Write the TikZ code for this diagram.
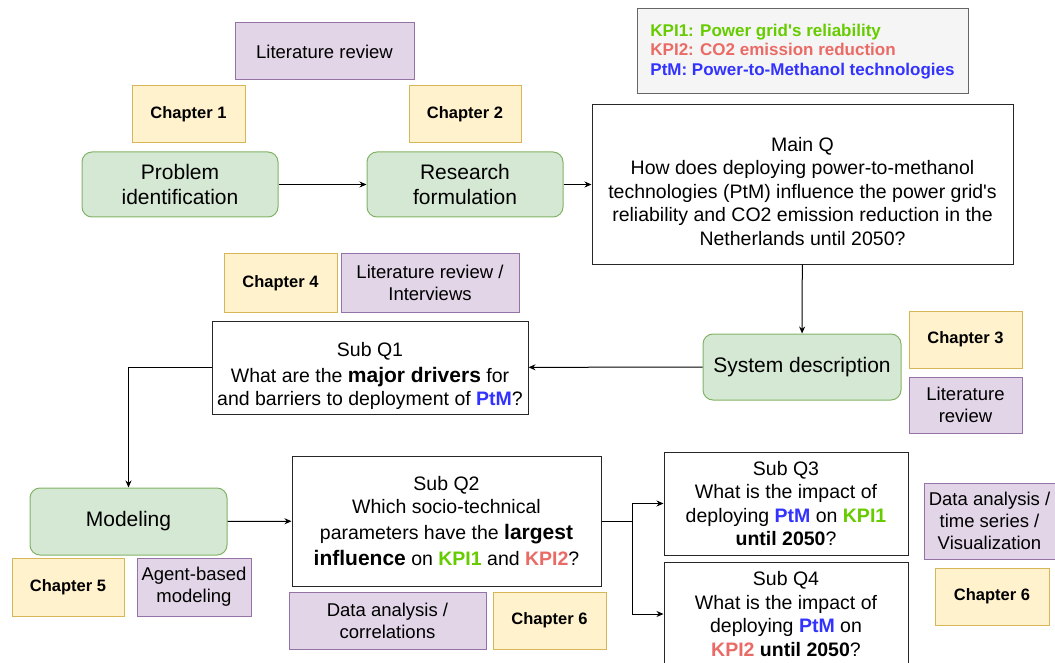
\documentclass[tikz,border=0pt]{standalone}
\usepackage{fontspec}
\setmainfont{Liberation Sans}
\usepackage{xcolor}
\usetikzlibrary{arrows.meta}
\definecolor{grfill}{HTML}{D5E8D4}
\definecolor{grdraw}{HTML}{82B366}
\definecolor{yefill}{HTML}{FFF2CC}
\definecolor{yedraw}{HTML}{D6B656}
\definecolor{pufill}{HTML}{E1D5E7}
\definecolor{pudraw}{HTML}{9673A6}
\definecolor{lgfill}{HTML}{F5F5F5}
\definecolor{lgdraw}{HTML}{666666}
\definecolor{kpione}{HTML}{66CC00}
\definecolor{kpitwo}{HTML}{EA6B66}
\definecolor{ptmblue}{HTML}{3333FF}
% keywords in the questions
\newcommand*{\PtM}{\textcolor{ptmblue}{\textbf{PtM}}}
\newcommand*{\KPIone}{\textcolor{kpione}{\textbf{KPI1}}}
\newcommand*{\KPItwo}{\textcolor{kpitwo}{\textbf{KPI2}}}
\newcommand*{\keyword}[1]{{\fontsize{21}{23.5}\selectfont\bfseries #1}}
\newcommand*{\apos}{\textquotesingle}

\begin{document}
\begin{tikzpicture}[x=1pt, y=-1pt, line width=1pt, >={Stealth[length=7pt,width=6pt]},
  dims/.style 2 args={minimum width=#1pt, minimum height=#2pt},
  phase/.style={draw=grdraw, fill=grfill, rounded corners=10pt, align=center, inner sep=0pt, font=\fontsize{21}{25}\selectfont},
  chapter/.style={draw=yedraw, fill=yefill, inner sep=0pt, font=\bfseries\fontsize{16.5}{20}\selectfont},
  method/.style={draw=pudraw, fill=pufill, align=center, inner sep=0pt, font=\fontsize{18.5}{22}\selectfont},
  question/.style={draw=black!85, fill=white, align=center, inner sep=0pt, font=\fontsize{19.5}{23.5}\selectfont}]
\useasboundingbox (0,0) rectangle (1055,663);

\node[method, dims={179}{57}] (litrev) at (324.5,51.5) {Literature review};
\node[chapter, dims={113}{57}] (chone) at (188.5,114.5) {Chapter 1};
\node[chapter, dims={112}{57}] (chtwo) at (465,114.5) {Chapter 2};
\node[phase, dims={196}{65}] (problem) at (180,184.5) {Problem\\identification};
\node[phase, dims={196}{65}] (research) at (465,184.5) {Research\\formulation};
\node[draw=lgdraw, fill=lgfill, align=left, inner sep=0pt, dims={331}{85}, font=\bfseries\fontsize{17}{19.5}\selectfont] (legend) at (802.5,51.5)
  {\textcolor{kpione}{KPI1: Power grid\apos s reliability}\\\textcolor{kpitwo}{KPI2: CO2 emission reduction}\\\textcolor{ptmblue}{PtM: Power-to-Methanol technologies}};
\node[question, dims={421}{159}] (mainq) at (802.5,184.5) {\rule{0pt}{28pt}Main Q\\How does deploying power-to-methanol\\technologies (PtM) influence the power grid\apos s\\reliability and CO2 emission reduction in the\\Netherlands until 2050?};

\node[chapter, dims={113}{58}] (chfour) at (280.5,283) {Chapter 4};
\node[method, dims={178}{58}] (interviews) at (430,283) {Literature review /\\Interviews};
\node[question, dims={316}{93}] (subqone) at (370,367.5) {\rule{0pt}{31pt}Sub Q1\\[2.5pt]What are the \keyword{major drivers} for\\and barriers to deployment of \PtM?};
\node[phase, dims={198}{66}] (system) at (802,367) {System description};
\node[chapter, dims={113}{57}] (chthree) at (965.5,339.5) {Chapter 3};
\node[method, dims={113}{56}] (litrevb) at (965.5,405) {Literature\\review};

\node[phase, dims={197}{67}] (modeling) at (128.5,521.5) {Modeling};
\node[chapter, dims={112}{58}] (chfive) at (68,587) {Chapter 5};
\node[method, dims={114}{58}] (agent) at (194,587) {Agent-based\\modeling};
\node[question, dims={309}{130}] (subqtwo) at (446.5,521) {Sub Q2\\Which socio-technical\\[2.5pt]parameters have the \keyword{largest}\\[2.5pt]\keyword{influence} on \KPIone{} and \KPItwo?};
\node[method, dims={197}{57}] (correl) at (387.5,620.5) {Data analysis /\\correlations};
\node[chapter, dims={113}{57}] (chsix) at (549.5,620.5) {Chapter 6};
\node[question, dims={244}{103}] (subqthree) at (786,503.5) {Sub Q3\\What is the impact of\\deploying \PtM{} on \KPIone\\\textbf{until 2050}?};
\node[question, dims={244}{104}] (subqfour) at (786,614) {Sub Q4\\What is the impact of\\deploying \PtM{} on\\\KPItwo{} \textbf{until 2050}?};
\node[method, dims={131}{76}] (timeseries) at (989.5,521) {Data analysis /\\time series /\\Visualization};
\node[chapter, dims={114}{57}] (chsixb) at (992,596.5) {Chapter 6};

\draw[->] (problem) -- (research);
\draw[->] (research) -- (mainq);
\draw[->] (mainq) -- (system);
\draw[->] (system) -- (subqone);
\draw[->] (subqone.west) -| (modeling.north);
\draw[->] (modeling) -- (subqtwo);
\coordinate (split) at (632,521);
\draw (subqtwo.east) -- (split);
\draw[->] (split) |- (subqthree.west);
\draw[->] (split) |- (subqfour.west);
\end{tikzpicture}
\end{document}
